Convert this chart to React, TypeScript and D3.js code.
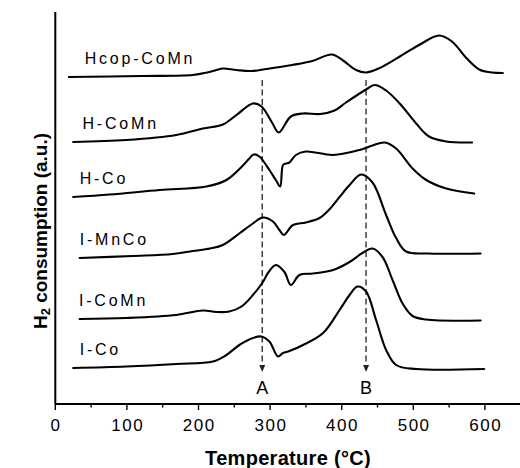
import React from "react";
import * as d3 from "d3";

const W = 520;
const H = 468;

// Axis ticks (temperature, °C)
const xMajorTicks = [0, 100, 200, 300, 400, 500, 600];
const xMinorTicks = [50, 150, 250, 350, 450, 550];

// Series names, vertical offsets (a.u.) and label anchor temperatures
const seriesNames = ["I-Co", "I-CoMn", "I-MnCo", "H-Co", "H-CoMn", "Hcop-CoMn"];
const seriesOffsets = [36, 85, 146, 207, 262, 327];
const labelTemps = [34, 33, 34, 34, 38, 41];

// TPR profiles: temperature (°C) and H2 consumption above baseline (a.u.)
const tempICo = [25, 99, 169, 220, 239, 257, 276, 288, 299, 311, 318, 327, 346, 374, 397, 411, 422, 434, 448, 462, 476, 504, 599];
const sigICo = [0, 1.5, 4, 6.5, 13, 23, 30, 31.5, 26.5, 11.5, 15, 17, 23, 35, 58, 73, 81.5, 76.5, 48, 18, 3, -1, -1];

const tempICoMn = [34, 99, 169, 206, 225, 243, 260, 276, 290, 297, 308, 320, 329, 341, 360, 388, 411, 429, 443, 457, 471, 485, 499, 518, 594];
const sigICoMn = [0, 1, 4, 8.5, 7, 7.5, 12.5, 24, 37, 46, 54, 47, 34, 44, 45.5, 49, 57, 66, 70.5, 62, 39, 15.5, 3, -0.5, -1.5];

const tempIMnCo = [34, 108, 164, 192, 216, 234, 257, 276, 290, 304, 313, 319, 332, 350, 369, 382, 397, 411, 427, 443, 462, 476, 490, 522, 594];
const sigIMnCo = [0, 2, 4, 7, 9.5, 13, 24.5, 34.5, 40.5, 36.5, 28, 23, 33, 35.5, 40, 48, 61, 73, 83.5, 75.5, 43, 20, 6.5, 4.5, 4.5];

const tempHCo = [25, 76, 146, 211, 239, 260, 271, 277, 285, 299, 308, 314, 318, 322, 327, 336, 350, 388, 425, 443, 460, 476, 499, 518, 546, 585];
const sigHCo = [0, 2.5, 7, 10.5, 17, 30, 38.5, 42.5, 40.5, 27, 17, 10.5, 32, 33.5, 34.5, 42, 45.5, 42, 47, 51.5, 54.5, 48.5, 28.5, 17, 8.5, 3.5];

const tempHCoMn = [25, 99, 169, 206, 234, 253, 276, 288, 303, 312, 329, 346, 370, 390, 406, 434, 446, 462, 481, 504, 522, 546, 582];
const sigHCoMn = [0, 2, 7, 13.5, 17.5, 27, 38.5, 35.5, 19, 9.5, 25.5, 28.5, 28, 31.5, 39.5, 52.5, 57, 51.5, 38.5, 18.5, 5.5, 0.5, -0.5];

const tempHcopCoMn = [19, 120, 192, 212, 225, 234, 253, 274, 295, 331, 359, 386, 401, 420, 434, 453, 480, 508, 536, 554, 574, 592, 610, 625];
const sigHcopCoMn = [0, 1, 2, 4.5, 7, 8.5, 7, 6, 8, 12, 16, 22.5, 17, 7, 4.5, 9, 20, 32, 41.5, 35.5, 19, 7.5, 4.5, 4];

const seriesTemps = [tempICo, tempICoMn, tempIMnCo, tempHCo, tempHCoMn, tempHcopCoMn];
const seriesSignals = [sigICo, sigICoMn, sigIMnCo, sigHCo, sigHCoMn, sigHcopCoMn];

// Reduction peak markers (A, B)
const markerTemps = [289, 434];
const markerLabels = ["A", "B"];
const markerTop = 324;
const markerBottom = 32;

const FONT = "'Liberation Sans', Arial, Helvetica, sans-serif";

export default function App() {
  const x = d3.scaleLinear().domain([0, 649]).range([55.3, 520]);
  const y = d3.scaleLinear().domain([0, 392]).range([404, 12]);

  const line = d3
    .line<[number, number]>()
    .x((d) => x(d[0]))
    .y((d) => y(d[1]))
    .curve(d3.curveCatmullRom.alpha(0.5));

  const labelLift = 13.5;

  return (
    <svg
      width={W}
      height={H}
      viewBox={`0 0 ${W} ${H}`}
      style={{ position: "absolute", left: 0, top: 0, background: "#fff" }}
      fontFamily={FONT}
    >
      <rect width={W} height={H} fill="#fff" />

      {/* axes */}
      <line x1={x(0)} y1={y(0)} x2={x(649)} y2={y(0)} stroke="#000" strokeWidth={2} />
      <line x1={x(0)} y1={y(0)} x2={x(0)} y2={y(392)} stroke="#000" strokeWidth={2} />
      {xMajorTicks.map((t) => (
        <g key={`M${t}`}>
          <line x1={x(t)} x2={x(t)} y1={y(0)} y2={y(0) + 6} stroke="#000" strokeWidth={1.4} />
          <text
            x={x(t) + 0.8}
            y={431}
            fontSize={17}
            letterSpacing={1.5}
            textAnchor="middle"
            fill="#000"
          >
            {t}
          </text>
        </g>
      ))}
      {xMinorTicks.map((t) => (
        <line key={`m${t}`} x1={x(t)} x2={x(t)} y1={y(0)} y2={y(0) + 3.5} stroke="#000" strokeWidth={1.4} />
      ))}

      {/* axis titles */}
      <text
        x={288}
        y={465}
        fontSize={20}
        fontWeight="bold"
        textAnchor="middle"
        letterSpacing={0.3}
        fill="#000"
      >
        Temperature (°C)
      </text>
      <text
        transform={`translate(47,231) rotate(-90)`}
        fontSize={19}
        fontWeight="bold"
        textAnchor="middle"
        fill="#000"
      >
        H
        <tspan fontSize={13} baselineShift="-25%">2</tspan>
        <tspan> consumption (a.u.)</tspan>
      </text>

      {/* marker lines */}
      {markerTemps.map((t, i) => {
        const xx = x(t);
        const tip = y(markerBottom);
        return (
          <g key={`mk${i}`}>
            <line
              x1={xx}
              x2={xx}
              y1={y(markerTop)}
              y2={tip - 5}
              stroke="#222"
              strokeWidth={1.3}
              strokeDasharray="6,3.5"
            />
            <path
              d={`M${xx - 3},${tip - 7} L${xx + 3},${tip - 7} L${xx},${tip} Z`}
              fill="#222"
            />
            <text x={xx} y={394} fontSize={18} textAnchor="middle" fill="#000">
              {markerLabels[i]}
            </text>
          </g>
        );
      })}

      {/* profiles */}
      {seriesNames.map((name, i) => {
        const pts: [number, number][] = seriesTemps[i].map((t, j) => [
          t,
          seriesOffsets[i] + seriesSignals[i][j],
        ]);
        return (
          <g key={name}>
            <path
              d={line(pts) || ""}
              fill="none"
              stroke="#000"
              strokeWidth={2.1}
              strokeLinejoin="round"
              strokeLinecap="round"
            />
            <text
              x={x(labelTemps[i])}
              y={y(seriesOffsets[i] + labelLift)}
              fontSize={16}
              letterSpacing={2.8}
              fill="#000"
            >
              {name}
            </text>
          </g>
        );
      })}
    </svg>
  );
}
